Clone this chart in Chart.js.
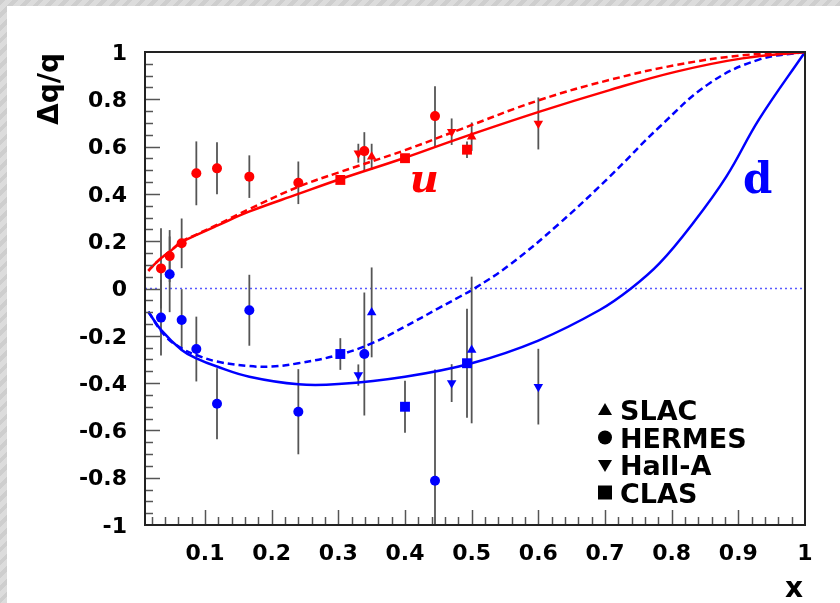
<!DOCTYPE html>
<html>
<head>
<meta charset="utf-8">
<script src="https://cdn.jsdelivr.net/npm/chart.js@4.4.1/dist/chart.umd.min.js"></script>
<style>
  html, body { margin: 0; padding: 0; }
  body {
    width: 840px; height: 603px; overflow: hidden;
    background: #d4d4d4 repeating-linear-gradient(135deg, #cecece 0 4px, #dcdcdc 4px 9px);
  }
  #panel { position: absolute; left: 7px; top: 6px; width: 833px; height: 597px; background: #fff; }
</style>
</head>
<body>
<div id="panel"><canvas id="asym" width="833" height="597"></canvas></div>
<script>
// measured points, one set of arrays per experiment
const slacX = [0.35, 0.50];
const slacU = [0.557, 0.642];
const slacUErr = [0.055, 0.06];
const slacD = [-0.101, -0.26];
const slacDErr = [0.19, 0.31];

const hermesX = [0.034, 0.047, 0.065, 0.087, 0.118, 0.1665, 0.24, 0.339, 0.445];
const hermesU = [0.085, 0.137, 0.191, 0.487, 0.508, 0.473, 0.447, 0.581, 0.729];
const hermesUErr = [0.17, 0.11, 0.105, 0.135, 0.11, 0.09, 0.09, 0.08, 0.126];
const hermesD = [-0.123, 0.06, -0.133, -0.256, -0.487, -0.092, -0.521, -0.277, -0.813];
const hermesDErr = [0.16, 0.16, 0.13, 0.137, 0.15, 0.15, 0.18, 0.26, 0.47];

const hallaX = [0.33, 0.47, 0.60];
const hallaU = [0.572, 0.663, 0.698];
const hallaUErr = [0.04, 0.056, 0.11];
const hallaD = [-0.366, -0.40, -0.415];
const hallaDErr = [0.045, 0.08, 0.16];

const clasX = [0.303, 0.40, 0.493];
const clasU = [0.459, 0.551, 0.587];
const clasUErr = [0.015, 0.015, 0.035];
const clasD = [-0.277, -0.50, -0.316];
const clasDErr = [0.067, 0.11, 0.23];

// model curves (solid and dashed)
const uSolidX = [0.015, 0.03, 0.048, 0.065, 0.09, 0.12, 0.166, 0.24, 0.3, 0.4, 0.482, 0.602, 0.707, 0.807, 0.906, 1.0];
const uSolidY = [0.075, 0.118, 0.158, 0.196, 0.23, 0.268, 0.325, 0.40, 0.46, 0.553, 0.635, 0.748, 0.839, 0.917, 0.973, 1.0];
const uDashX = [0.015, 0.03, 0.048, 0.065, 0.09, 0.12, 0.166, 0.24, 0.3, 0.4, 0.482, 0.602, 0.707, 0.807, 0.906, 1.0];
const uDashY = [0.075, 0.118, 0.158, 0.198, 0.232, 0.272, 0.335, 0.43, 0.49, 0.585, 0.672, 0.797, 0.882, 0.945, 0.986, 1.0];
const dSolidX = [0.015, 0.034, 0.065, 0.087, 0.118, 0.1665, 0.24, 0.3, 0.4, 0.5, 0.6, 0.692, 0.739, 0.782, 0.832, 0.882, 0.931, 1.0];
const dSolidY = [-0.098, -0.175, -0.26, -0.295, -0.33, -0.373, -0.405, -0.404, -0.373, -0.316, -0.22, -0.091, 0, 0.107, 0.276, 0.473, 0.715, 1.0];
const dDashX = [0.015, 0.04, 0.065, 0.087, 0.118, 0.1665, 0.2, 0.24, 0.3, 0.35, 0.4, 0.45, 0.482, 0.504, 0.557, 0.632, 0.707, 0.782, 0.857, 0.931, 1.0];
const dDashY = [-0.098, -0.2, -0.253, -0.281, -0.309, -0.328, -0.33, -0.316, -0.281, -0.232, -0.161, -0.084, -0.035, 0, 0.10, 0.276, 0.473, 0.684, 0.868, 0.968, 1.0];

const xTicks = [0.1, 0.2, 0.3, 0.4, 0.5, 0.6, 0.7, 0.8, 0.9, 1];
const yTicks = [-1, -0.8, -0.6, -0.4, -0.2, 0, 0.2, 0.4, 0.6, 0.8, 1];

const RED = '#ff0000';
const BLUE = '#0000ff';
const tickFont = { family: '"DejaVu Sans"', size: 22, weight: 'bold' };

const pts = (xs, ys) => xs.map((x, i) => ({ x: x, y: ys[i] }));
const fmt = v => String(Math.round(v * 10) / 10);

function markers(xs, ys, errs, color, style, radius, rot) {
  return {
    type: 'scatter',
    data: pts(xs, ys),
    errors: errs,
    backgroundColor: color,
    borderColor: color,
    pointBorderWidth: 0,
    pointStyle: style,
    pointRadius: radius,
    pointRotation: rot || 0,
    order: 0
  };
}

function curve(xs, ys, color, dash) {
  return {
    type: 'line',
    data: pts(xs, ys),
    borderColor: color,
    borderWidth: 2.5,
    borderDash: dash,
    pointRadius: 0,
    tension: 0.4,
    fill: false,
    order: 1
  };
}

// error bars + zero line, under the markers
const errorBars = {
  id: 'errorBars',
  beforeDatasetsDraw(chart) {
    const { ctx, chartArea: a, scales: { x, y } } = chart;
    ctx.save();
    ctx.beginPath();
    ctx.rect(a.left, a.top, a.right - a.left, a.bottom - a.top);
    ctx.clip();

    ctx.strokeStyle = 'rgba(60,60,255,0.85)';
    ctx.lineWidth = 1.5;
    ctx.setLineDash([2, 3]);
    ctx.beginPath();
    ctx.moveTo(a.left, y.getPixelForValue(0));
    ctx.lineTo(a.right, y.getPixelForValue(0));
    ctx.stroke();
    ctx.setLineDash([]);

    ctx.strokeStyle = '#555';
    ctx.lineWidth = 1.8;
    chart.data.datasets.forEach(ds => {
      if (!ds.errors) return;
      ds.data.forEach((p, i) => {
        const px = x.getPixelForValue(p.x);
        ctx.beginPath();
        ctx.moveTo(px, y.getPixelForValue(p.y - ds.errors[i]));
        ctx.lineTo(px, y.getPixelForValue(p.y + ds.errors[i]));
        ctx.stroke();
      });
    });
    ctx.restore();
  }
};

// ROOT style frame with inner ticks, axis titles, legend and the u / d tags
const decorations = {
  id: 'decorations',
  afterDatasetsDraw(chart) {
    const { ctx, chartArea: a, scales: { x, y } } = chart;
    ctx.save();

    ctx.strokeStyle = '#555';
    ctx.lineWidth = 1.5;
    for (let i = 1; i <= 49; i++) {
      const px = Math.round(x.getPixelForValue(i * 0.02)) + 0.5;
      const len = (i % 5 === 0) ? 15 : 8;
      ctx.beginPath();
      ctx.moveTo(px, a.bottom);
      ctx.lineTo(px, a.bottom - len);
      ctx.stroke();
    }
    for (let i = -19; i <= 19; i++) {
      const py = Math.round(y.getPixelForValue(i * 0.05)) + 0.5;
      const len = (i % 4 === 0) ? 15 : 8;
      ctx.beginPath();
      ctx.moveTo(a.left, py);
      ctx.lineTo(a.left + len, py);
      ctx.stroke();
    }

    ctx.strokeStyle = '#222';
    ctx.lineWidth = 2;
    ctx.strokeRect(a.left, a.top, a.right - a.left, a.bottom - a.top);

    // curve tags
    ctx.textAlign = 'center';
    ctx.textBaseline = 'alphabetic';
    ctx.fillStyle = RED;
    ctx.font = 'italic bold 40px "DejaVu Serif"';
    ctx.fillText('u', x.getPixelForValue(0.429), y.getPixelForValue(0.408));
    ctx.fillStyle = BLUE;
    ctx.font = 'bold 42px "DejaVu Serif"';
    ctx.fillText('d', x.getPixelForValue(0.929), y.getPixelForValue(0.404));

    // legend
    const names = ['SLAC', 'HERMES', 'Hall-A', 'CLAS'];
    const mx = a.left + 460, tx = a.left + 475;
    ctx.fillStyle = '#000';
    ctx.font = 'bold 27px "DejaVu Sans"';
    ctx.textAlign = 'left';
    names.forEach((n, i) => {
      const base = 414 + i * 27.5;
      const cy = base - 10;
      ctx.beginPath();
      if (i === 0) { ctx.moveTo(mx, cy - 7); ctx.lineTo(mx + 7, cy + 5); ctx.lineTo(mx - 7, cy + 5); }
      else if (i === 1) { ctx.arc(mx, cy, 7, 0, Math.PI * 2); }
      else if (i === 2) { ctx.moveTo(mx, cy + 7); ctx.lineTo(mx + 7, cy - 5); ctx.lineTo(mx - 7, cy - 5); }
      else { ctx.rect(mx - 7, cy - 7, 14, 14); }
      ctx.closePath();
      ctx.fill();
      ctx.fillText(n, tx, base);
    });

    // axis titles
    ctx.font = 'bold 28px "DejaVu Sans"';
    ctx.textAlign = 'right';
    ctx.fillText('x', 796, 591);
    ctx.translate(51, 47);
    ctx.rotate(-Math.PI / 2);
    ctx.fillText('\u0394q/q', 0, 0);
    ctx.restore();
  }
};

new Chart(document.getElementById('asym'), {
  type: 'scatter',
  data: {
    datasets: [
      markers(slacX, slacU, slacUErr, RED, 'triangle', 5.5),
      markers(hermesX, hermesU, hermesUErr, RED, 'circle', 5),
      markers(hallaX, hallaU, hallaUErr, RED, 'triangle', 5.5, 180),
      markers(clasX, clasU, clasUErr, RED, 'rect', 7),
      markers(slacX, slacD, slacDErr, BLUE, 'triangle', 5.5),
      markers(hermesX, hermesD, hermesDErr, BLUE, 'circle', 5),
      markers(hallaX, hallaD, hallaDErr, BLUE, 'triangle', 5.5, 180),
      markers(clasX, clasD, clasDErr, BLUE, 'rect', 7),
      curve(uSolidX, uSolidY, RED, []),
      curve(uDashX, uDashY, RED, [7, 4]),
      curve(dSolidX, dSolidY, BLUE, []),
      curve(dDashX, dDashY, BLUE, [7, 4])
    ]
  },
  options: {
    responsive: false,
    animation: false,
    events: [],
    layout: { padding: { left: 0, top: 46, right: 35, bottom: 0 } },
    plugins: { legend: { display: false }, tooltip: { enabled: false } },
    scales: {
      x: {
        type: 'linear', min: 0.01, max: 1,
        afterBuildTicks: s => { s.ticks = xTicks.map(v => ({ value: v })); },
        afterFit: s => { s.height = 78; },
        grid: { display: false, drawTicks: false },
        border: { display: false },
        ticks: { padding: 16, font: tickFont, color: '#000', callback: fmt, maxRotation: 0, autoSkip: false }
      },
      y: {
        type: 'linear', min: -1, max: 1,
        afterBuildTicks: s => { s.ticks = yTicks.map(v => ({ value: v })); },
        afterFit: s => { s.width = 138; },
        grid: { display: false, drawTicks: false },
        border: { display: false },
        ticks: { padding: 18, labelOffset: 2, font: tickFont, color: '#000', callback: fmt, autoSkip: false }
      }
    }
  },
  plugins: [errorBars, decorations]
});
</script>
</body>
</html>
